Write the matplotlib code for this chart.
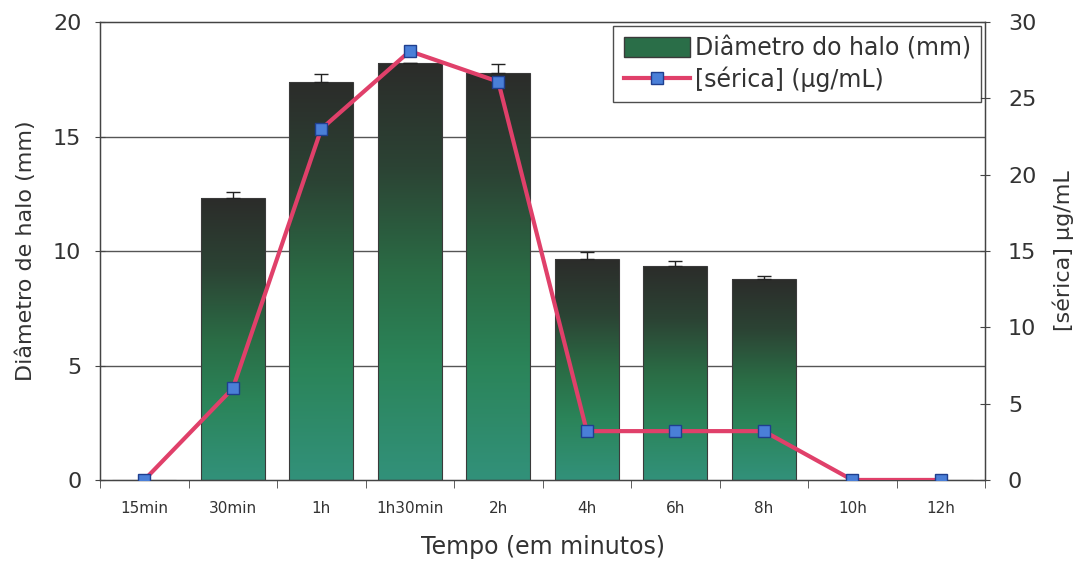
import numpy as np
import matplotlib.pyplot as plt
from matplotlib.colors import LinearSegmentedColormap
from matplotlib.lines import Line2D
from matplotlib.patches import Patch

# data
categorias = ['15min', '30min', '1h', '1h30min', '2h', '4h', '6h', '8h', '10h', '12h']
halo = [0, 12.3, 17.4, 18.2, 17.8, 9.65, 9.35, 8.8, 0, 0]
halo_erro = [0, 0.3, 0.35, 0, 0.35, 0.3, 0.2, 0.12, 0, 0]
serica = [0, 6.0, 23.0, 28.1, 26.1, 3.2, 3.2, 3.2, 0, 0]

cor_texto = '#333333'
cmap = LinearSegmentedColormap.from_list(
    'halo', [(0.0, '#32917a'), (0.28, '#2b8459'), (0.5, '#2a6c45'),
             (0.75, '#2c4334'), (1.0, '#2b2c2a')])

fig = plt.figure(figsize=(10.84, 5.68), dpi=100)
ax = fig.add_axes([0.0923, 0.155, 0.8164, 0.806])
x = np.arange(len(categorias))
largura = 0.72
halo_arr = np.array(halo)
halo_err_arr = np.array(halo_erro)

ax.set_ylim(0, 20)

# horizontal grid
for g in [5, 10, 15]:
    ax.axhline(g, color='#555555', lw=1.0, zorder=0)

grad = np.linspace(0, 1, 256).reshape(-1, 1)
barras = ax.bar(x, halo, width=largura, color='none', edgecolor='#3a3a3a',
                lw=0.8, zorder=3)
for b, h in zip(barras, halo):
    if h <= 0:
        continue
    x0 = b.get_x()
    im = ax.imshow(grad, cmap=cmap, origin='lower', aspect='auto',
                   extent=[x0, x0 + largura, 0, h], zorder=2)
    im.set_clip_path(b)

tem = halo_arr > 0
ax.errorbar(x[tem], halo_arr[tem],
            yerr=[np.zeros(tem.sum()), halo_err_arr[tem]],
            fmt='none', ecolor='#222222', elinewidth=1, capsize=5, capthick=1,
            zorder=4)
ax.set_xlim(-0.5, len(categorias) - 0.5)

ax.set_yticks([0, 5, 10, 15, 20])
ax.set_xticks(x)
ax.set_xticklabels(categorias, fontsize=11, color=cor_texto)
ax.set_xticks(np.arange(-0.5, len(categorias)), minor=True)
ax.tick_params(axis='x', which='major', length=0, pad=15)
ax.tick_params(axis='x', which='minor', length=6, color='#444444')
ax.tick_params(axis='y', labelsize=16, labelcolor=cor_texto, length=7,
               direction='inout', color='#444444', pad=10)
ax.set_ylabel('Diâmetro de halo (mm)', fontsize=16, color=cor_texto, labelpad=12)
ax.set_xlabel('Tempo (em minutos)', fontsize=17, color=cor_texto, labelpad=14)
for s in ax.spines.values():
    s.set_color('#444444')
    s.set_linewidth(1)

ax2 = ax.twinx()
ax2.set_ylim(0, 30)
ax2.set_yticks([0, 5, 10, 15, 20, 25, 30])
ax2.tick_params(axis='y', labelsize=16, labelcolor=cor_texto, length=7,
                direction='inout', color='#444444', pad=13)
ax2.plot(x, serica, color='#e0406a', lw=3, marker='s', markersize=8,
         markerfacecolor='#4a7fd8', markeredgecolor='#1f3f8f',
         markeredgewidth=1, zorder=5)
ax2.set_ylabel('[sérica] µg/mL', fontsize=16, color=cor_texto, labelpad=12)
for s in ax2.spines.values():
    s.set_color('#444444')

handles = [Patch(facecolor='#2a6e48', edgecolor='#3a3a3a'),
           Line2D([], [], color='#e0406a', lw=3, marker='s', markersize=8,
                  markerfacecolor='#4a7fd8', markeredgecolor='#1f3f8f')]
leg = ax2.legend(handles, ['Diâmetro do halo (mm)', '[sérica] (µg/mL)'],
                 loc='upper right', fontsize=17, frameon=True, fancybox=False,
                 edgecolor='#222222', borderaxespad=0.15, handlelength=2.8,
                 handleheight=0.9, handletextpad=0.2, borderpad=0.45,
                 labelspacing=0.25)
leg.get_frame().set_linewidth(1)
for t in leg.get_texts():
    t.set_color(cor_texto)

fig.savefig('out.png', dpi=100)
